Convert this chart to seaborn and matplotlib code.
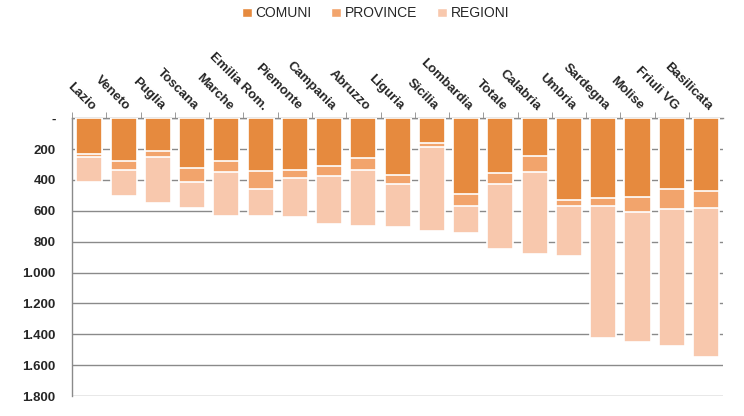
import numpy as np
import pandas as pd
import matplotlib
matplotlib.use("Agg")
import matplotlib.pyplot as plt
import seaborn as sns
from matplotlib.patches import Patch
from matplotlib.ticker import FuncFormatter

# dati (valori per livello di governo)
regioni_lbl = ["Lazio", "Veneto", "Puglia", "Toscana", "Marche", "Emilia Rom.",
               "Piemonte", "Campania", "Abruzzo", "Liguria", "Sicilia", "Lombardia",
               "Totale", "Calabria", "Umbria", "Sardegna", "Molise", "Friuli VG",
               "Basilicata"]
comuni = [230, 275, 211, 320, 275, 340, 333, 308, 258, 368, 161, 492,
          353, 243, 533, 520, 508, 462, 469]
province = [19, 58, 43, 91, 71, 122, 52, 64, 75, 56, 24, 74,
            71, 103, 39, 52, 98, 129, 112]
regioni = [164, 172, 297, 170, 288, 172, 256, 312, 366, 279, 546, 178,
           423, 534, 320, 850, 841, 882, 963]
y_ticks = [0, 200, 400, 600, 800, 1000, 1200, 1400, 1600, 1800]

df = pd.DataFrame({"area": regioni_lbl, "COMUNI": comuni,
                   "PROVINCE": province, "REGIONI": regioni})
df["cum_com"] = df["COMUNI"]
df["cum_prov"] = df["COMUNI"] + df["PROVINCE"]
df["cum_reg"] = df["cum_prov"] + df["REGIONI"]

colori = {"COMUNI": "#E68A3E", "PROVINCE": "#F2A46C", "REGIONI": "#F8C8AD"}

sns.set_style("white")
plt.rcParams["font.family"] = ["Liberation Sans", "DejaVu Sans"]

fig = plt.figure(figsize=(7.44, 4.16), dpi=100)
ax = fig.add_axes([0.097, 0.048, 0.875, 0.668])

# barre sovrapposte (cumulate), dalla più alta alla più bassa
for col, key in [("cum_reg", "REGIONI"), ("cum_prov", "PROVINCE"), ("cum_com", "COMUNI")]:
    sns.barplot(data=df, x="area", y=col, color=colori[key], saturation=1,
                width=0.76, edgecolor="white", linewidth=1.2, ax=ax, zorder=3)

ax.set_ylim(1800, 0)
ax.set_yticks(y_ticks)
ax.yaxis.set_major_formatter(FuncFormatter(
    lambda v, p: "-" if v == 0 else f"{int(v):,}".replace(",", ".")))
ax.grid(axis="y", color="#8a8a8a", linewidth=1, zorder=0)
ax.set_axisbelow(True)

ax.xaxis.tick_top()
ax.set_xlabel("")
ax.set_ylabel("")
ax.set_xticks(np.arange(len(regioni_lbl)) - 0.5, minor=True)
ax.tick_params(axis="x", which="minor", length=4, color="#8a8a8a", top=True, bottom=False)
ax.tick_params(axis="x", which="major", length=0, pad=4)
ax.set_xticks(range(len(regioni_lbl)))
ax.set_xticklabels(regioni_lbl, rotation=-45, ha="right", va="bottom",
                   rotation_mode="anchor", fontsize=9.5, fontweight="bold")
ax.tick_params(axis="y", length=0, labelsize=9.5, pad=12)
for lab in ax.get_yticklabels():
    lab.set_fontweight("bold")

for s in ["right", "bottom"]:
    ax.spines[s].set_visible(False)
for s in ["left", "top"]:
    ax.spines[s].set_color("#8a8a8a")
    ax.spines[s].set_linewidth(1)

handles = [Patch(facecolor=colori[k], label=k) for k in ["COMUNI", "PROVINCE", "REGIONI"]]
fig.legend(handles=handles, loc="center", bbox_to_anchor=(0.505, 0.968), ncol=3,
           frameon=False, fontsize=10, handlelength=0.7, handleheight=0.7,
           handletextpad=0.3, columnspacing=1.4)

fig.savefig("out.png", dpi=100)
